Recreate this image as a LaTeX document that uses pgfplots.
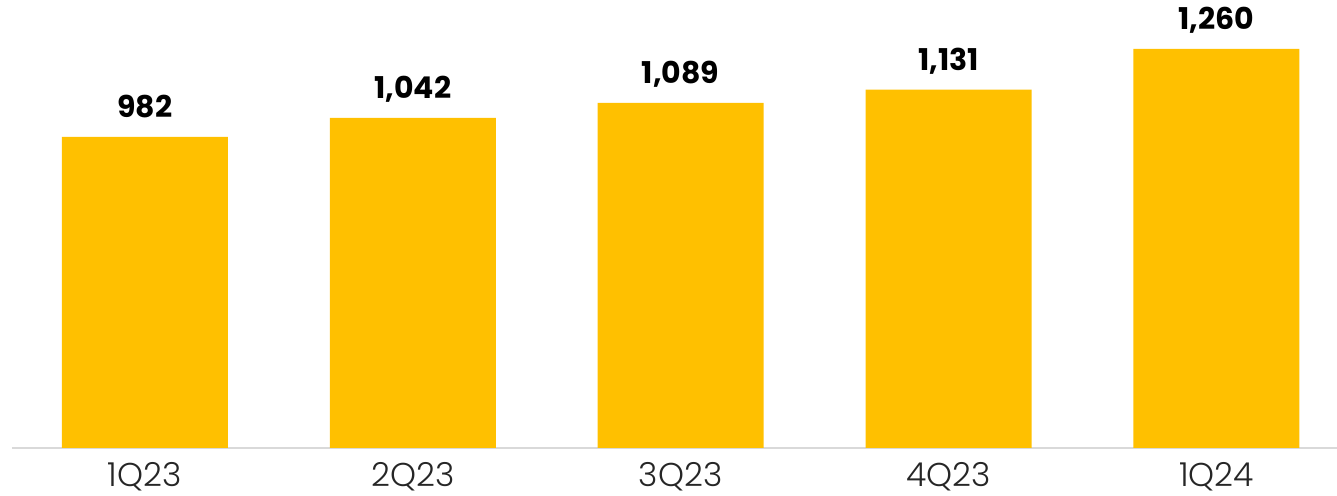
\documentclass[border=0pt]{standalone}
\usepackage{pgfplots}
\pgfplotsset{compat=1.18}
\usepackage{fontspec}
\setmainfont{Poppins}
\newfontfamily\lightfont{Poppins Light}
\definecolor{baryellow}{HTML}{FFC000}
\definecolor{axisgray}{HTML}{D9D9D9}
\definecolor{ticktext}{HTML}{262626}
\begin{document}
\begin{tikzpicture}
\path[use as bounding box] (0,0) rectangle (668.5pt,248pt);
\begin{axis}[
  at={(6pt,24pt)}, anchor=south west,
  scale only axis,
  width=662.5pt, height=224pt,
  xmin=-0.496, xmax=4.45,
  ymin=0, ymax=1414,
  axis x line*=bottom,
  axis y line=none,
  x axis line style={draw=axisgray, line width=0.8pt, -},
  xtick={0,1,2,3,4},
  xticklabels={1Q23,2Q23,3Q23,4Q23,1Q24},
  major tick length=0pt,
  xticklabel style={anchor=base, yshift=-19.5pt, font=\lightfont\fontsize{16.5}{16.5}\selectfont, text=ticktext},
  ybar, bar width=83pt,
  nodes near coords,
  every node near coord/.append style={anchor=base, yshift=9.5pt, font=\bfseries\fontsize{15}{15}\selectfont, text=black},
  /pgf/number format/.cd, 1000 sep={,}, assume math mode=true,
]
\addplot[fill=baryellow, draw=none] coordinates {(0,982) (1,1042) (2,1089) (3,1131) (4,1260)};
\end{axis}
\end{tikzpicture}
\end{document}
